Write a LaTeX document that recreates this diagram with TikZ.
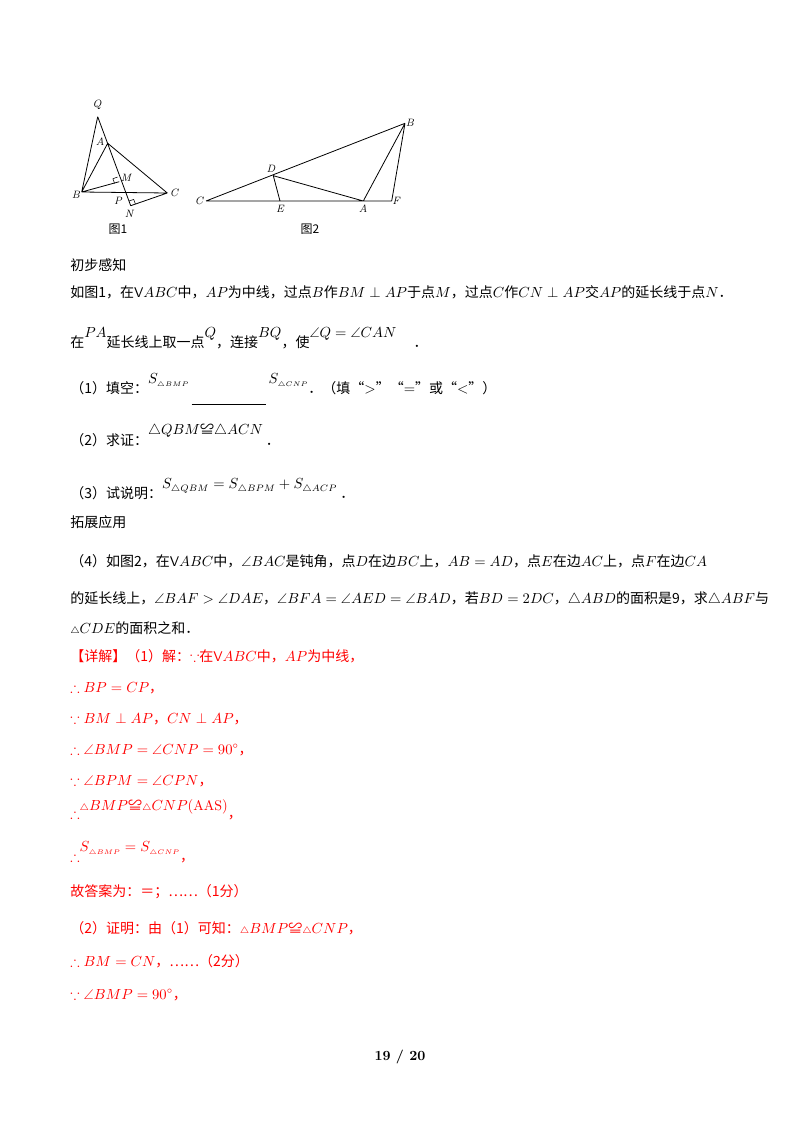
\documentclass[tikz,border=0pt]{standalone}
\usepackage{amsmath,amssymb}
\usepackage{fontspec}
\usetikzlibrary{calc}
\newfontfamily\cjk{Noto Sans CJK SC}
\begin{document}
\begin{tikzpicture}[x=0.75pt,y=-0.75pt,
  txt/.style={anchor=base west,inner sep=0pt,font=\cjk\fontsize{10.5}{12}\selectfont},
  lbl/.style={inner sep=0pt,font=\fontsize{8}{9}\selectfont\itshape},
  figcap/.style={inner sep=0pt,font=\cjk\fontsize{9}{10}\selectfont},
  geo/.style={line width=0.6pt},
  redtxt/.style={text=red}]
\useasboundingbox (0,0) rectangle (800,1132);
\fill[white] (0,0) rectangle (800,1132);
% figure 1
\coordinate (Q) at (97.7,116.7); \coordinate (A) at (107.7,143.3);
\coordinate (B) at (81.7,192); \coordinate (C) at (167.3,193);
\coordinate (M) at (119.3,181.7); \coordinate (N) at (130.7,205.7);
\coordinate (P) at (125.6,192.5);
\draw[geo] (Q)--(B) (Q)--(N) (A)--(B) (A)--(C) (B)--(C) (B)--(M) (C)--(N);
\draw[line width=0.4pt] ($(M)+(-1.74,-4.69)$) -- ++(-4.69,1.74) -- ++(1.74,4.69);
\draw[line width=0.4pt] ($(N)+(-1.74,-4.69)$) -- ++(4.74,-1.6) -- ++(1.74,4.69);
\node[lbl] (lQ) at (97,105) {Q};
\node[lbl] (lA) at (100,142) {A};
\node[lbl] (lB) at (76,195) {B};
\node[lbl] (lC) at (174,193) {C};
\node[lbl] (lM) at (126,178) {M};
\node[lbl] (lP) at (118,201) {P};
\node[lbl] (lN) at (129,214) {N};
\node[figcap] (c1) at (118,229) {图1};
% figure 2
\coordinate (C2) at (206,201); \coordinate (B2) at (405,123.3);
\coordinate (D2) at (273.3,175.7); \coordinate (E2) at (280,201);
\coordinate (A2) at (363.3,201); \coordinate (F2) at (391.7,201);
\draw[geo] (C2)--(B2) (C2)--(F2) (B2)--(F2) (B2)--(A2) (D2)--(A2) (D2)--(E2);
\node[lbl] (lC2) at (199,201) {C};
\node[lbl] (lB2) at (410,123) {B};
\node[lbl] (lD2) at (271,169) {D};
\node[lbl] (lE2) at (280,209) {E};
\node[lbl] (lA2) at (363,209) {A};
\node[lbl] (lF2) at (396,201) {F};
\node[figcap] (c2) at (310,229) {图2};
% text
\node[txt] (t0) at (70,270) {初步感知};
\node[txt] (t1) at (70,297) {如图1，在$\mathsf{V}ABC$中，$AP$为中线，过点$B$作$BM\perp AP$于点$M$，过点$C$作$CN\perp AP$交$AP$的延长线于点$N$．};
\node[txt] (t2) at (70,347) {在\raisebox{1.2ex}{$PA$}延长线上取一点\raisebox{1.2ex}{$Q$}，连接\raisebox{1.2ex}{$BQ$}，使\raisebox{1.2ex}{$\angle Q=\angle CAN$}\quad\ ．};
\node[txt] (t3) at (70,393) {（1）填空：\raisebox{1.2ex}{$S_{\scriptscriptstyle\triangle BMP}$}\,\rule[-1.5ex]{56pt}{0.4pt}\,\raisebox{1.2ex}{$S_{\scriptscriptstyle\triangle CNP}$}．（填“$>$”“$=$”或“$<$”）};
\node[txt] (t4) at (70,445) {（2）求证：\raisebox{1.4ex}{$\triangle QBM$≌$\triangle ACN$}\ ．};
\node[txt] (t5) at (70,498) {（3）试说明：\raisebox{1.2ex}{$S_{\triangle QBM}=S_{\triangle BPM}+S_{\triangle ACP}$}\ ．};
\node[txt] (t6) at (70,527) {拓展应用};
\node[txt] (t7) at (70,566) {（4）如图2，在$\mathsf{V}ABC$中，$\angle BAC$是钝角，点$D$在边$BC$上，$AB=AD$，点$E$在边$AC$上，点$F$在边$CA$};
\node[txt] (t8) at (70,603) {的延长线上，$\angle BAF>\angle DAE$，$\angle BFA=\angle AED=\angle BAD$，若$BD=2DC$，$\triangle ABD$的面积是9，求$\triangle ABF$与};
\node[txt] (t9) at (70,633) {$\scriptstyle\triangle$$CDE$的面积之和．};
\node[txt,redtxt] (r0) at (70,661) {【详解】（1）解：$\because$在$\mathsf{V}ABC$中，$AP$为中线，};
\node[txt,redtxt] (r1) at (70,692) {$\therefore BP=CP$，};
\node[txt,redtxt] (r2) at (70,723) {$\because BM\perp AP$，$CN\perp AP$，};
\node[txt,redtxt] (r3) at (70,754) {$\therefore\angle BMP=\angle CNP=90^\circ$，};
\node[txt,redtxt] (r4) at (70,785) {$\because\angle BPM=\angle CPN$，};
\node[txt,redtxt] (r5) at (70,818) {$\therefore$\raisebox{1ex}{$\scriptstyle\triangle$$BMP$≌$\scriptstyle\triangle$$CNP(\mathrm{AAS})$}，};
\node[txt,redtxt] (r6) at (70,861) {$\therefore$\raisebox{1.2ex}{$S_{\scriptscriptstyle\triangle BMP}=S_{\scriptscriptstyle\triangle CNP}$}，};
\node[txt,redtxt] (r7) at (70,896) {故答案为：＝；……（1分）};
\node[txt,redtxt] (r8) at (70,933) {（2）证明：由（1）可知：$\scriptstyle\triangle$$BMP$≌$\scriptstyle\triangle$$CNP$，};
\node[txt,redtxt] (r9) at (70,966) {$\therefore BM=CN$，……（2分）};
\node[txt,redtxt] (r10) at (70,999) {$\because\angle BMP=90^\circ$，};
\node[inner sep=0pt,font=\bfseries\fontsize{10.5}{12}\selectfont] (pg) at (400,1057) {19 / 20};
\end{tikzpicture}
\end{document}
